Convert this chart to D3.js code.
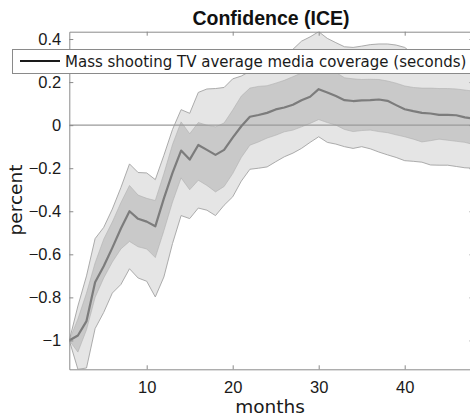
<!DOCTYPE html>
<html>
<head>
<meta charset="utf-8">
<script src="https://cdn.jsdelivr.net/npm/d3@7"></script>
<style>
  html, body { margin: 0; padding: 0; background: #fff; }
  svg { display: block; }
</style>
</head>
<body>
<svg id="chart" width="470" height="418"></svg>
<script>
// Months after the event
const months = d3.range(1, 49);

// Mean response (percent)
const meanVals = [-1.0, -0.977, -0.91, -0.73, -0.655, -0.57, -0.48, -0.40, -0.435, -0.448,
  -0.47, -0.34, -0.222, -0.118, -0.16, -0.092, -0.115, -0.138, -0.115, -0.058,
  -0.005, 0.039, 0.047, 0.057, 0.073, 0.082, 0.095, 0.116, 0.132, 0.167,
  0.152, 0.135, 0.116, 0.112, 0.115, 0.116, 0.119, 0.113, 0.093, 0.074,
  0.065, 0.057, 0.054, 0.048, 0.048, 0.046, 0.036, 0.03];

// Inner confidence band
const innerHi = [-1.0, -0.90, -0.78, -0.64, -0.53, -0.45, -0.36, -0.28, -0.325, -0.34,
  -0.35, -0.225, -0.09, 0.015, -0.04, 0.012, 0.0, -0.008, 0.01, 0.07,
  0.135, 0.172, 0.18, 0.183, 0.195, 0.208, 0.225, 0.242, 0.262, 0.29,
  0.27, 0.245, 0.22, 0.215, 0.212, 0.213, 0.212, 0.205, 0.195, 0.182,
  0.175, 0.172, 0.172, 0.17, 0.17, 0.168, 0.163, 0.158];
const innerLo = [-1.0, -1.054, -0.95, -0.80, -0.71, -0.636, -0.575, -0.54, -0.565, -0.575,
  -0.615, -0.49, -0.357, -0.245, -0.30, -0.256, -0.28, -0.31, -0.285, -0.225,
  -0.15, -0.093, -0.078, -0.06, -0.047, -0.031, -0.023, -0.008, 0.008, 0.026,
  0.012, 0.0, -0.02, -0.03, -0.025, -0.023, -0.03, -0.035, -0.045, -0.054,
  -0.065, -0.078, -0.072, -0.065, -0.07, -0.075, -0.08, -0.09];

// Outer confidence band
const outerHi = [-1.0, -0.84, -0.70, -0.527, -0.475, -0.39, -0.29, -0.18, -0.22, -0.222,
  -0.253, -0.14, -0.02, 0.072, 0.055, 0.152, 0.168, 0.17, 0.175, 0.215,
  0.228, 0.25, 0.27, 0.29, 0.31, 0.33, 0.352, 0.39, 0.41, 0.434,
  0.403, 0.383, 0.364, 0.361, 0.367, 0.374, 0.377, 0.377, 0.372, 0.361,
  0.33, 0.31, 0.30, 0.29, 0.285, 0.28, 0.275, 0.27];
const outerLo = [-1.0, -1.134, -1.128, -0.945, -0.87, -0.78, -0.74, -0.667, -0.71, -0.725,
  -0.798, -0.705, -0.55, -0.42, -0.434, -0.385, -0.395, -0.42, -0.372, -0.333,
  -0.26, -0.205, -0.2, -0.194, -0.17, -0.147, -0.13, -0.108, -0.08, -0.054,
  -0.08, -0.088, -0.1, -0.108, -0.1, -0.11, -0.125, -0.138, -0.15, -0.165,
  -0.168, -0.172, -0.185, -0.186, -0.186, -0.192, -0.198, -0.2];

const yTicks = [-1, -0.8, -0.6, -0.4, -0.2, 0, 0.2, 0.4];
const xTicks = [10, 20, 30, 40];

const titleText = "Confidence (ICE)";
const legendText = "Mass shooting TV average media coverage (seconds)";
const xLabel = "months";
const yLabel = "percent";

const plot = { left: 69.3, right: 473.5, top: 31.7, bottom: 369.3 };

const svg = d3.select("#chart");

const x = d3.scaleLinear().domain([1, 48]).range([plot.left, plot.right]);
const y = d3.scaleLinear().domain([-1.134, 0.434]).range([plot.bottom, plot.top]);

svg.append("defs").append("clipPath").attr("id", "plotClip")
  .append("rect")
  .attr("x", plot.left).attr("y", plot.top)
  .attr("width", plot.right - plot.left).attr("height", plot.bottom - plot.top);

const g = svg.append("g").attr("clip-path", "url(#plotClip)");

const rows = months.map((m, i) => ({
  m, mean: meanVals[i], ilo: innerLo[i], ihi: innerHi[i], olo: outerLo[i], ohi: outerHi[i]
}));

const outerArea = d3.area().x(d => x(d.m)).y0(d => y(d.olo)).y1(d => y(d.ohi));
const innerArea = d3.area().x(d => x(d.m)).y0(d => y(d.ilo)).y1(d => y(d.ihi));
const meanLine = d3.line().x(d => x(d.m)).y(d => y(d.mean));

g.append("path").datum(rows).attr("d", outerArea)
  .attr("fill", "#e5e5e5").attr("stroke", "#a3a3a3").attr("stroke-width", 0.9);
g.append("path").datum(rows).attr("d", innerArea)
  .attr("fill", "#c9c9c9").attr("stroke", "#b0b0b0").attr("stroke-width", 0.6);

// zero reference line
g.append("line")
  .attr("x1", plot.left).attr("x2", plot.right)
  .attr("y1", y(0)).attr("y2", y(0))
  .attr("stroke", "#9a9a9a").attr("stroke-width", 1.2);

g.append("path").datum(rows).attr("d", meanLine)
  .attr("fill", "none").attr("stroke", "#7c7c7c").attr("stroke-width", 2.2)
  .attr("stroke-linejoin", "round");

// Box axes with inward ticks on all four sides
const axisColor = "#8a8a8a";
const tickFont = "'Liberation Sans', Arial, Helvetica, sans-serif";

function styleAxis(sel) {
  sel.select(".domain").attr("stroke", axisColor).attr("stroke-width", 1);
  sel.selectAll(".tick line").attr("stroke", axisColor).attr("stroke-width", 1);
}

const xAxisB = svg.append("g").attr("transform", `translate(0,${plot.bottom})`)
  .call(d3.axisBottom(x).tickValues(xTicks).tickSizeInner(-4).tickSizeOuter(0).tickPadding(12).tickFormat(d3.format("d")));
styleAxis(xAxisB);
xAxisB.selectAll("text").attr("font-family", tickFont).attr("font-size", 16.5).attr("fill", "#1a1a1a");

const xAxisT = svg.append("g").attr("transform", `translate(0,${plot.top})`)
  .call(d3.axisTop(x).tickValues(xTicks).tickSizeInner(-4).tickSizeOuter(0).tickFormat(""));
styleAxis(xAxisT);

const yFmt = d => (d === 0 ? "0" : d3.format("")(+d.toFixed(1)));
const yAxisL = svg.append("g").attr("transform", `translate(${plot.left},0)`)
  .call(d3.axisLeft(y).tickValues(yTicks).tickSizeInner(-4).tickSizeOuter(0).tickPadding(8).tickFormat(yFmt));
styleAxis(yAxisL);
yAxisL.selectAll("text").attr("font-family", tickFont).attr("font-size", 16.5).attr("fill", "#1a1a1a");

const yAxisR = svg.append("g").attr("transform", `translate(${plot.right},0)`)
  .call(d3.axisRight(y).tickValues(yTicks).tickSizeInner(-4).tickSizeOuter(0).tickFormat(""));
styleAxis(yAxisR);

// Title
svg.append("text")
  .attr("x", 271).attr("y", 25)
  .attr("text-anchor", "middle")
  .attr("font-family", tickFont).attr("font-weight", "bold").attr("font-size", 19.5)
  .attr("fill", "#111")
  .text(titleText);

// Axis labels
const labelFont = "'DejaVu Sans', Verdana, sans-serif";
svg.append("text")
  .attr("x", 270).attr("y", 413)
  .attr("text-anchor", "middle")
  .attr("font-family", labelFont).attr("font-size", 18.5).attr("fill", "#1a1a1a")
  .text(xLabel);

svg.append("text")
  .attr("transform", `translate(22,200) rotate(-90)`)
  .attr("text-anchor", "middle")
  .attr("font-family", labelFont).attr("font-size", 18.5).attr("fill", "#1a1a1a")
  .text(yLabel);

// Legend
const leg = svg.append("g");
leg.append("rect")
  .attr("x", 12.5).attr("y", 49.5).attr("width", 470).attr("height", 24)
  .attr("fill", "#fff").attr("stroke", "#8a8a8a").attr("stroke-width", 1);
leg.append("line")
  .attr("x1", 20).attr("x2", 60).attr("y1", 61).attr("y2", 61)
  .attr("stroke", "#1a1a1a").attr("stroke-width", 2.2);
leg.append("text")
  .attr("x", 65).attr("y", 66.5)
  .attr("font-family", labelFont).attr("font-size", 15).attr("fill", "#1a1a1a")
  .text(legendText);
</script>
</body>
</html>
